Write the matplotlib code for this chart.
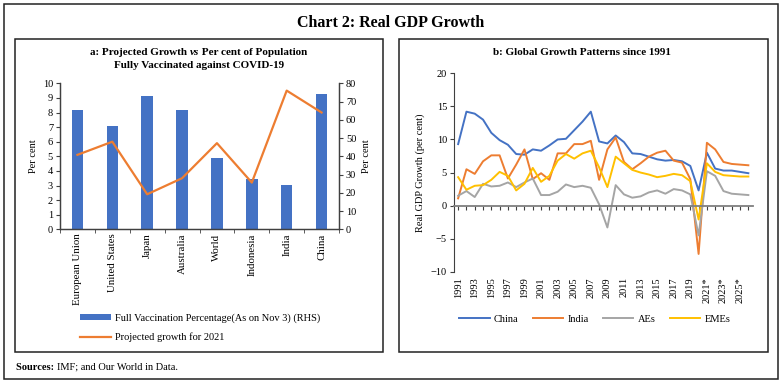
import matplotlib
matplotlib.use("Agg")
import matplotlib.pyplot as plt
from matplotlib.patches import Rectangle
import numpy as np

plt.rcParams['font.family'] = ['Liberation Serif', 'DejaVu Serif']

# ---------------- data ----------------
countries = ["European Union", "United States", "Japan", "Australia", "World",
             "Indonesia", "India", "China"]
vaccinated = [65.4, 56.8, 73.0, 65.4, 39.2, 27.6, 24.3, 74.0]
growth_2021 = [5.1, 6.0, 2.4, 3.5, 5.9, 3.2, 9.5, 8.0]

years = list(range(1991, 2027))
china = [9.3, 14.2, 13.9, 13.0, 11.0, 9.9, 9.2, 7.8, 7.7, 8.5, 8.3, 9.1, 10.0, 10.1,
         11.4, 12.7, 14.2, 9.7, 9.4, 10.6, 9.6, 7.9, 7.8, 7.4, 7.0, 6.8, 6.9, 6.7,
         6.0, 2.3, 8.0, 5.6, 5.3, 5.3, 5.1, 4.9]
india = [1.1, 5.5, 4.8, 6.7, 7.6, 7.6, 4.1, 6.2, 8.5, 4.0, 4.9, 3.9, 7.9, 7.9,
         9.3, 9.3, 9.8, 3.9, 8.5, 10.3, 6.6, 5.5, 6.4, 7.4, 8.0, 8.3, 6.8, 6.5,
         4.0, -7.3, 9.5, 8.5, 6.6, 6.3, 6.2, 6.1]
aes = [1.5, 2.2, 1.3, 3.3, 2.9, 3.0, 3.5, 2.8, 3.5, 4.1, 1.6, 1.6, 2.1, 3.2,
       2.8, 3.0, 2.7, 0.2, -3.3, 3.1, 1.7, 1.2, 1.4, 2.0, 2.3, 1.8, 2.5, 2.3,
       1.7, -4.5, 5.2, 4.5, 2.2, 1.8, 1.7, 1.6]
emes = [4.3, 2.4, 3.0, 3.1, 3.9, 5.1, 4.5, 2.3, 3.3, 5.7, 3.6, 4.5, 6.8, 7.8,
        7.1, 7.9, 8.3, 5.8, 2.8, 7.4, 6.4, 5.4, 5.0, 4.7, 4.3, 4.5, 4.8, 4.6,
        3.7, -2.1, 6.4, 5.1, 4.6, 4.5, 4.4, 4.4]
label_years = list(range(1991, 2027, 2))
year_labels = [str(y) if y <= 2019 else f"{y}*" for y in label_years]

BLUE = "#4472C4"
ORANGE = "#ED7D31"
GRAY = "#A5A5A5"
YELLOW = "#FFC000"
AXC = "#404040"

W, H = 782, 383
fig = plt.figure(figsize=(W / 100, H / 100), dpi=100)
renderer = fig.canvas.get_renderer()


def rect(x0, y0, x1, y1):
    return [x0 / W, 1 - y1 / H, (x1 - x0) / W, (y1 - y0) / H]


def fx(x):
    return x / W


def fy(y):
    return 1 - y / H


def rich_line(parts, xc, yc, align="center", **kw):
    """Draw a line of text made of (string, style dict) parts."""
    texts = [fig.text(0, fy(yc), s, va="center", ha="left", **kw, **st)
             for s, st in parts]
    widths = [t.get_window_extent(renderer).width for t in texts]
    total = sum(widths)
    x = xc - total / 2 if align == "center" else xc
    for t, w in zip(texts, widths):
        t.set_x(fx(x))
        x += w
    return texts


# boxes
for (x0, y0, x1, y1) in [(4, 4, 778, 379), (15, 39, 383, 352), (399, 39, 768, 352)]:
    fig.patches.append(Rectangle((fx(x0), fy(y1)), (x1 - x0) / W, (y1 - y0) / H,
                                 transform=fig.transFigure, fill=False,
                                 edgecolor="#222222", linewidth=1.1))

fig.text(fx(391), fy(23), "Chart 2: Real GDP Growth", ha="center", va="center",
         fontsize=11.5, fontweight="bold")
rich_line([("Sources: ", {"fontweight": "bold"}),
           ("IMF; and Our World in Data.", {})], 16, 367, align="left", fontsize=7.5)

# ---------------- left panel ----------------
axL = fig.add_axes(rect(60, 83.3, 339, 229.3))
axR = axL.twinx()
x = np.arange(len(countries))
bars = axR.bar(x, vaccinated, width=0.33, color=BLUE, zorder=2)
line, = axL.plot(x, growth_2021, color=ORANGE, linewidth=1.6, zorder=3)
axL.set_zorder(axR.get_zorder() + 1)
axL.patch.set_visible(False)

axL.set_xlim(-0.5, len(countries) - 0.5)
axL.set_ylim(0, 10)
axR.set_ylim(0, 80)
axL.set_yticks(range(0, 11))
axR.set_yticks(range(0, 81, 10))
axL.set_xticks(x)
axL.set_xticklabels(countries, rotation=90, fontsize=7.8)
axL.set_xticks(np.arange(-0.5, len(countries), 1), minor=True)
axL.tick_params(axis="x", which="major", length=0, pad=3)
axL.tick_params(axis="x", which="minor", length=3, color=AXC)
axL.tick_params(axis="y", labelsize=7.5, length=3, color=AXC, pad=2)
axR.tick_params(axis="y", labelsize=7.5, length=3, color=AXC, pad=2)
for a in (axL, axR):
    a.spines["top"].set_visible(False)
    for s in ("left", "right", "bottom"):
        a.spines[s].set_color(AXC)
        a.spines[s].set_linewidth(0.9)
axL.set_ylabel("Per cent", fontsize=7.5)
axR.set_ylabel("Per cent", fontsize=7.5)
axL.yaxis.set_label_coords((38 - 60) / 279, 0.5)
axR.yaxis.set_label_coords((362 - 60) / 279, 0.5)

rich_line([("a: Projected Growth ", {}), ("vs", {"fontstyle": "italic"}),
           (" Per cent of Population", {})], 199, 52.7,
          fontsize=8, fontweight="bold")
fig.text(fx(199), fy(66), "Fully Vaccinated against COVID-19", ha="center",
         va="center", fontsize=8, fontweight="bold")

fig.legend([bars, line],
           ["Full Vaccination Percentage(As on Nov 3) (RHS)",
            "Projected growth for 2021"],
           loc="upper left", bbox_to_anchor=(fx(71), fy(304)),
           frameon=False, fontsize=7.5, handlelength=2.9,
           handleheight=0.6, labelspacing=0.9, handletextpad=0.4)

# ---------------- right panel ----------------
ax2 = fig.add_axes(rect(454, 73.3, 752.5, 271.8))
ax2.plot(years, china, color=BLUE, linewidth=1.4, label="China")
ax2.plot(years, india, color=ORANGE, linewidth=1.4, label="India")
ax2.plot(years, aes, color=GRAY, linewidth=1.4, label="AEs")
ax2.plot(years, emes, color=YELLOW, linewidth=1.4, label="EMEs")
ax2.set_xlim(years[0] - 0.5, years[-1] + 0.5)
ax2.set_ylim(-10, 20)
ax2.set_yticks(range(-10, 21, 5))
ax2.spines["top"].set_visible(False)
ax2.spines["right"].set_visible(False)
ax2.spines["left"].set_color(AXC)
ax2.spines["bottom"].set_position(("data", 0))
ax2.spines["bottom"].set_color("#7F7F7F")
ax2.spines["bottom"].set_linewidth(1.3)
ax2.set_xticks(years)
ax2.tick_params(axis="x", length=3, color=AXC, labelbottom=False)
ax2.tick_params(axis="y", labelsize=7.5, length=3, color=AXC, pad=2)
ax2.set_ylabel("Real GDP Growth (per cent)", fontsize=7.5, labelpad=4)
sec = ax2.secondary_xaxis("bottom")
sec.set_xticks(label_years)
sec.set_xticklabels(year_labels, rotation=90, fontsize=7.5)
sec.tick_params(length=0, pad=4)
sec.spines["bottom"].set_visible(False)

fig.text(fx(582), fy(52.7), "b: Global Growth Patterns since 1991", ha="center",
         va="center", fontsize=8, fontweight="bold")

ax2.legend(loc="upper left", bbox_to_anchor=(fx(450), fy(305)),
           bbox_transform=fig.transFigure, ncol=4, frameon=False, fontsize=7.5,
           handlelength=2.9, handletextpad=0.4, columnspacing=1.4)

fig.savefig("out.png", dpi=100)
